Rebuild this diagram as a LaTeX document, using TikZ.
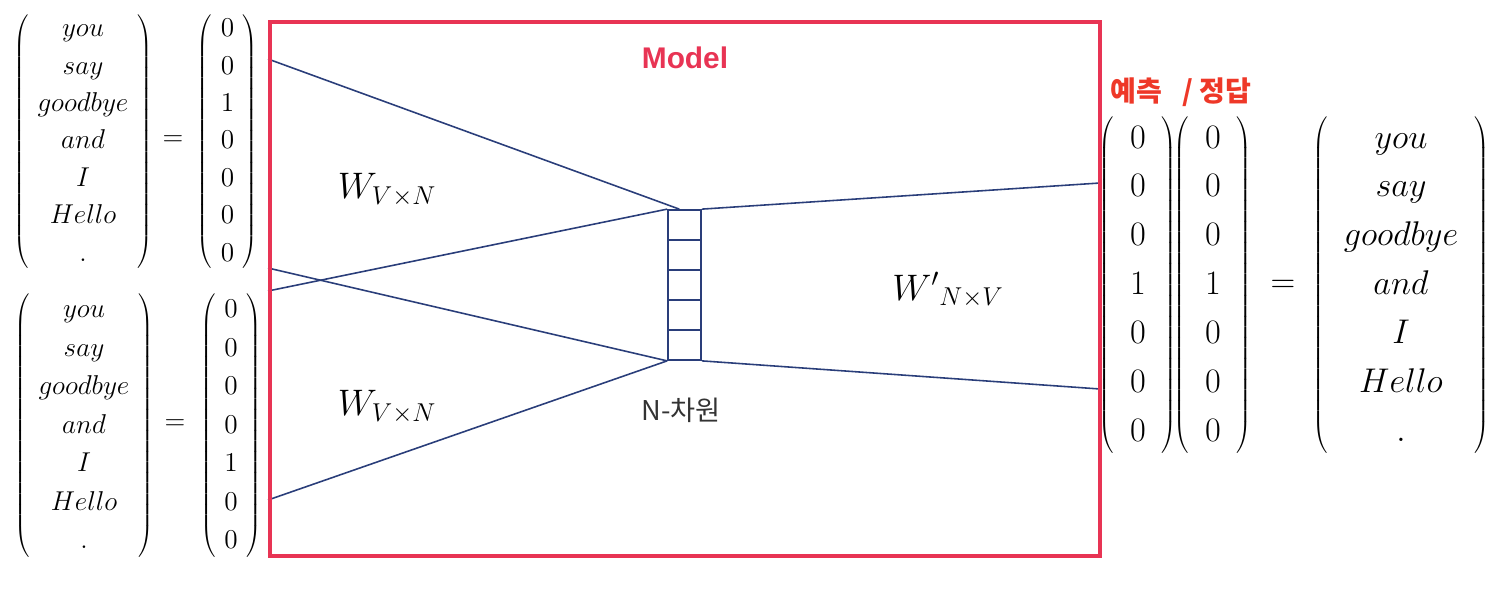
\documentclass[tikz,border=0pt]{standalone}
\usepackage{fix-cm}
\usepackage{fontspec}
\newfontfamily\krfont{Noto Sans CJK KR}
\newfontfamily\headfont{Liberation Sans}
\usetikzlibrary{calc}

\definecolor{modelred}{RGB}{232,52,84}
\definecolor{tagred}{RGB}{238,56,40}
\definecolor{wline}{RGB}{42,62,122}

\delimitershortfall=8pt
\newcommand{\wordvec}{\left(\begin{array}{c} you\\ say\\ goodbye\\ and\\ I\\ Hello\\ . \end{array}\right)}
\newcommand{\numvec}[7]{\left(\begin{array}{c} #1\\ #2\\ #3\\ #4\\ #5\\ #6\\ #7 \end{array}\right)}

\tikzset{
  vec/.style={inner sep=0pt, font={\fontsize{15.5}{18.6}\selectfont\def\arraystretch{1.145}\arraycolsep=5pt}},
  vecb/.style={inner sep=0pt, font={\fontsize{15.5}{18.6}\selectfont\def\arraystretch{1.18}\arraycolsep=5pt}},
  bigvec/.style={inner sep=0pt, font={\fontsize{19.5}{23.4}\selectfont\def\arraystretch{1.19}\arraycolsep=9pt}},
  cell/.style={draw=wline, line width=1pt, minimum width=0.66cm, minimum height=0.6cm, inner sep=0pt},
  wire/.style={wline, line width=0.9pt},
  wlabel/.style={inner sep=0pt, font=\fontsize{21}{25}\selectfont},
}

\begin{document}
\begin{tikzpicture}[x=0.02cm, y=-0.02cm]
  \useasboundingbox (0,0) rectangle (1490,588);

  % input context words
  \node[vec] (inA) at (83,141.5) {$\wordvec$};
  \node[vec] (eqA) at (173,141) {$=$};
  \node[vec] (hotA) at (227.5,141.5) {$\numvec{0}{0}{1}{0}{0}{0}{0}$};
  \node[vecb] (inB) at (84,425.5) {$\wordvec$};
  \node[vecb] (eqB) at (175,425) {$=$};
  \node[vecb] (hotB) at (231,425.5) {$\numvec{0}{0}{0}{0}{1}{0}{0}$};

  % hidden layer
  \foreach \i in {1,...,5}
    \node[cell] (c\i) at (684.5,195+30*\i) {};
  \node[inner sep=0pt, font=\krfont\fontsize{15.5}{18}\selectfont, text=black!80] (dim) at (681,410) {N-차원};

  \coordinate (a1) at (268,59);
  \coordinate (a2) at (268,291);
  \coordinate (b1) at (268,268);
  \coordinate (b2) at (268,500);
  \coordinate (o1) at (1100,183);
  \coordinate (o2) at (1100,389);
  \draw[wire] (a1) -- ($(c1.north west)!0.35!(c1.north east)$);
  \draw[wire] (a2) -- (c1.north west);
  \draw[wire] (b1) -- (c5.south west);
  \draw[wire] (b2) -- (c5.south west);
  \draw[wire] (c1.north east) -- (o1);
  \draw[wire] (c5.south east) -- (o2);

  \node[wlabel] (wa) at (387,190) {$W_{V\times N}$};
  \node[wlabel] (wb) at (387,407) {$W_{V\times N}$};
  \node[wlabel] (wo) at (948,290) {${W'}_{N\times V}$};

  % model box
  \draw[modelred, line width=2.3pt] (270,22) rectangle (1100,556);
  \node[inner sep=0pt, text=modelred, font=\headfont\bfseries\fontsize{17}{20}\selectfont] (model) at (685,58) {Model};

  % output
  \node[inner sep=0pt, text=tagred, font=\krfont\bfseries\fontsize{16}{19}\selectfont] (tag) at (1181,92.5) {예측\hspace{0.7em}/ 정답};
  \node[bigvec] (pred) at (1138,285) {$\numvec{0}{0}{0}{1}{0}{0}{0}$};
  \node[bigvec] (ans) at (1213,285) {$\numvec{0}{0}{0}{1}{0}{0}{0}$};
  \node[bigvec] (eqC) at (1283,286) {$=$};
  \node[bigvec] (out) at (1401,285) {$\wordvec$};
\end{tikzpicture}
\end{document}
